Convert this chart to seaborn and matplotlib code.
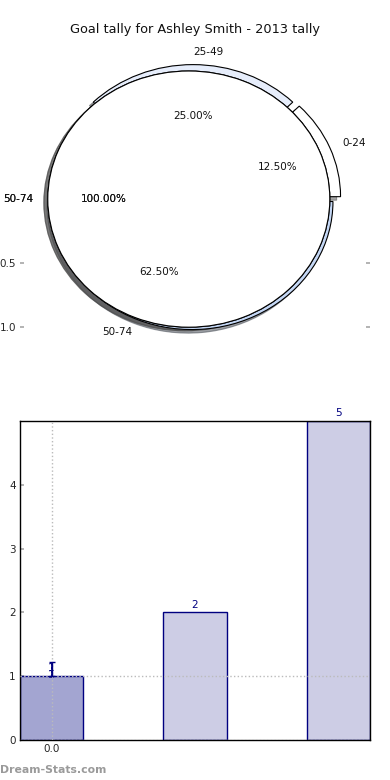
import matplotlib
matplotlib.use("Agg")
import matplotlib.pyplot as plt
import seaborn as sns

# ---- data ----
categories = ["0-24", "25-49", "50-74"]
goals = [1, 2, 5]
overall_label = ["50-74"]
overall_value = [1]
pie_colors = ["#ffffff", "#e6edfb", "#c4d7f5"]
bar_colors = ["#a3a5d1", "#cdcde5", "#cdcde5"]
first_bar_err = [[0.0], [0.22]]
title = "Goal tally for Ashley Smith - 2013 tally"
watermark = "Dream-Stats.com"

sns.set_theme(style="white")
plt.rcParams["font.family"] = ["DejaVu Sans"]
plt.rcParams["font.size"] = 7.5

fig = plt.figure(figsize=(3.9, 7.8), dpi=100)
W, H = 390.0, 780.0

# ---------- pie ----------
ax1 = fig.add_axes([20 / W, (H - 340) / H, 350 / W, 280 / H])
shadow = {"ox": -0.02, "oy": 0.02}
txt = dict(fontsize=7.5, color="#111111")
ax1.pie(goals, labels=categories, colors=pie_colors, explode=[0.05, 0.05, 0.02],
        autopct="%.2f%%", pctdistance=0.6, labeldistance=1.1, startangle=0.01,
        counterclock=False, shadow=shadow,
        wedgeprops=dict(edgecolor="black", linewidth=0.8), textprops=txt)
for _ in range(2):
    ax1.pie(overall_value, labels=overall_label, colors=["white"], explode=[0.03],
            autopct="%.2f%%", pctdistance=0.6, labeldistance=1.1, startangle=0.01,
            counterclock=False, shadow=shadow,
            wedgeprops=dict(edgecolor="black", linewidth=0.8), textprops=txt)
ax1.set_aspect("auto")
ax1.set_xlim(-1.227, 1.255)
ax1.set_ylim(1.10, -1.086)
ax1.set_frame_on(False)
ax1.set_xticks([])
ax1.set_yticks([0.5, 1.0])
ax1.set_yticklabels(["0.5", "1.0"])
ax1.tick_params(axis="y", left=True, right=True, direction="in", length=3,
                color="#aaaaaa", labelsize=7.5, pad=3)

fig.text(0.5, 1 - 30 / H, title, ha="center", va="center", fontsize=9.3, color="#111111")

# ---------- bars ----------
ax2 = fig.add_axes([20 / W, 40 / H, 350 / W, 319 / H])
sns.barplot(x=categories, y=goals, hue=categories, palette=bar_colors, width=0.44,
            edgecolor="navy", linewidth=1, saturation=1, legend=False, ax=ax2, zorder=2)
ax2.errorbar(0, goals[0], yerr=first_bar_err, color="navy", capsize=2.5, lw=1, zorder=4)
for i, v in enumerate(goals):
    ax2.annotate(str(v), (i, v), xytext=(0, 2), textcoords="offset points",
                 ha="center", va="bottom", color="navy", fontsize=7.5, annotation_clip=False)
ax2.annotate(str(goals[0]), (0, goals[0]), xytext=(0, -3), textcoords="offset points",
             ha="center", va="bottom", color="navy", fontsize=7.5)
ax2.set_xlim(-0.22, 2.22)
ax2.set_ylim(0, 5)
ax2.set_yticks([0, 1, 2, 3, 4])
ax2.set_xticks([0])
ax2.set_xticklabels(["0.0"])
ax2.set_xlabel("")
ax2.set_ylabel("")
for y in [0, 1]:
    ax2.axhline(y, color="#bbbbbb", ls=":", lw=1, zorder=3)
ax2.axvline(0, color="#bbbbbb", ls=":", lw=1, zorder=3)
for s in ax2.spines.values():
    s.set_visible(True)
    s.set_color("black")
    s.set_linewidth(1)
ax2.tick_params(axis="y", left=True, right=True, direction="in", length=3,
                color="#aaaaaa", labelsize=7.5, pad=3)
ax2.tick_params(axis="x", bottom=True, direction="in", length=3,
                color="#aaaaaa", labelsize=7.5, pad=3)

fig.text(0.0, 1 - 770 / H, watermark, ha="left", va="center", fontsize=7.8,
         color="#9a9a9a", fontweight="bold")

fig.savefig("out.png", dpi=100)
